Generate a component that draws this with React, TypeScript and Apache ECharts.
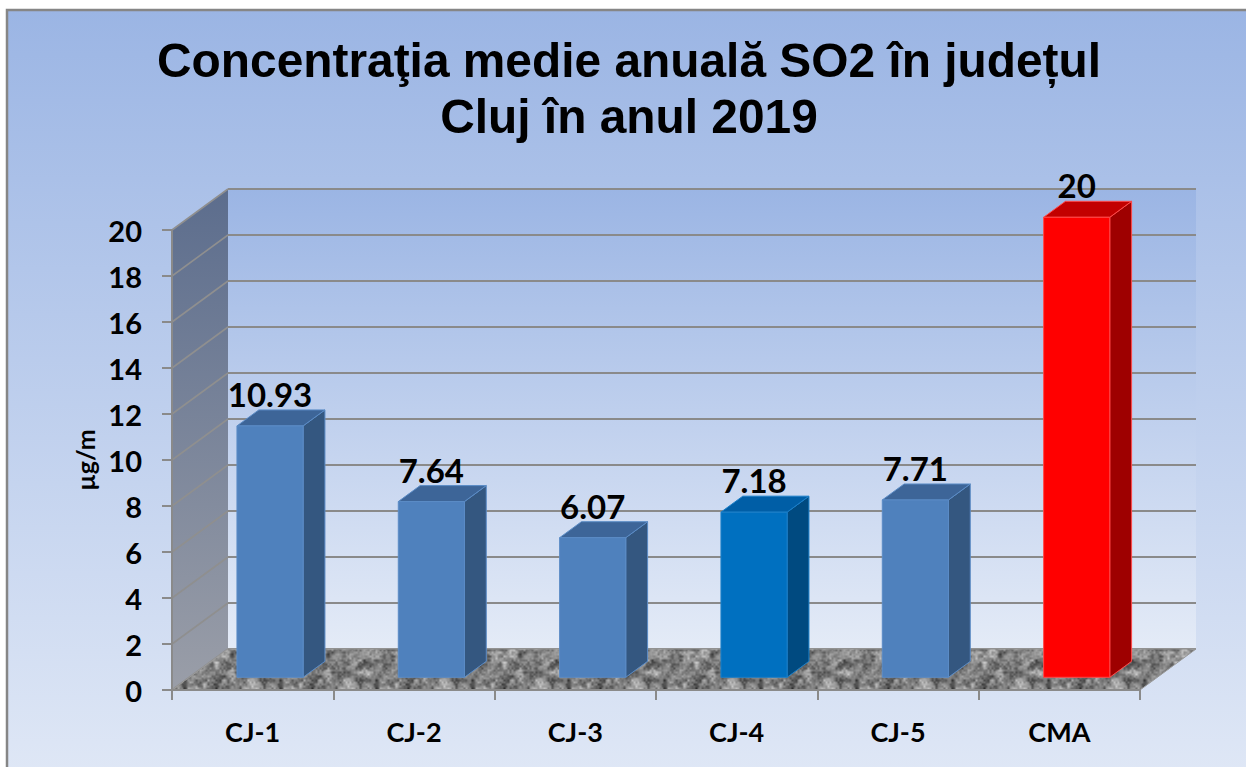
import React, { useEffect, useRef } from "react";
import * as echarts from "echarts";

// ---- data ----
const categories = ["CJ-1", "CJ-2", "CJ-3", "CJ-4", "CJ-5", "CMA"];
const values = [10.93, 7.64, 6.07, 7.18, 7.71, 20];
const yTicks = [0, 2, 4, 6, 8, 10, 12, 14, 16, 18, 20];
const titleLines = ["Concentraţia medie anuală SO2 în județul", "Cluj în anul 2019"];
const yAxisName = "µg/m";

// ---- styles / geometry ----
const W = 1246;
const H = 767;
const DX = 56; // depth offset of back wall
const DY = -41;
const D0 = 0.31; // bar front depth fraction
const D1 = 0.7; // bar back depth fraction
const BAR_FRAC = 0.41;
const LABEL_FONT = "Lato, 'Noto Sans', sans-serif";

const blue = { front: "#4f81bd", side: "#345780", top: "#3d6598", edge: "#5b8cc6" };
const strong = { front: "#0070c0", side: "#004a80", top: "#005ea6", edge: "#1b7fc8" };
const red = { front: "#ff0000", side: "#9e0000", top: "#c20000", edge: "#ff4a4a" };
const barPalette = [blue, blue, blue, strong, blue, red];

function makeGranite(): HTMLCanvasElement {
  const s = 96;
  const c = document.createElement("canvas");
  c.width = s;
  c.height = s;
  const g = c.getContext("2d")!;
  const img = g.createImageData(s, s);
  const hash = (x: number, y: number, seed: number) => {
    let h = Math.imul(x, 374761393) ^ Math.imul(y, 668265263) ^ Math.imul(seed, 2246822519);
    h = Math.imul(h ^ (h >>> 13), 1274126177);
    h = h ^ (h >>> 16);
    return ((h >>> 0) % 10000) / 10000;
  };
  const noise = (x: number, y: number, cell: number, seed: number) => {
    const n = s / cell;
    const gx = x / cell;
    const gy = y / cell;
    const ix = Math.floor(gx);
    const iy = Math.floor(gy);
    const fx = gx - ix;
    const fy = gy - iy;
    const sx = fx * fx * (3 - 2 * fx);
    const sy = fy * fy * (3 - 2 * fy);
    const a = hash(ix % n, iy % n, seed);
    const b = hash((ix + 1) % n, iy % n, seed);
    const cc = hash(ix % n, (iy + 1) % n, seed);
    const d = hash((ix + 1) % n, (iy + 1) % n, seed);
    return (a * (1 - sx) + b * sx) * (1 - sy) + (cc * (1 - sx) + d * sx) * sy;
  };
  for (let y = 0; y < s; y++) {
    for (let x = 0; x < s; x++) {
      const v =
        noise(x, y, 8, 1) * 0.4 + noise(x, y, 4, 2) * 0.35 + noise(x, y, 2, 3) * 0.25;
      let gray = 126 + (v - 0.5) * 190;
      gray = Math.max(45, Math.min(205, gray));
      const k = (y * s + x) * 4;
      img.data[k] = gray;
      img.data[k + 1] = gray;
      img.data[k + 2] = gray;
      img.data[k + 3] = 255;
    }
  }
  g.putImageData(img, 0, 0);
  return c;
}

function measure(text: string, font: string): number {
  const ctx = document.createElement("canvas").getContext("2d")!;
  ctx.font = font;
  return ctx.measureText(text).width;
}

export default function App() {
  const ref = useRef<HTMLDivElement>(null);

  useEffect(() => {
    if (!ref.current) return;
    const chart = echarts.init(ref.current, undefined, { renderer: "svg" });
    const granite = makeGranite();
    const titleFont = "bold 49px 'Liberation Sans', Arial, sans-serif";
    const tw = measure(titleLines[0], titleFont);
    const titleScale = tw > 0 ? 944 / tw : 0.84;

    const renderWalls = (params: any, api: any) => {
      const cs = params.coordSys;
      const L = cs.x;
      const R = cs.x + cs.width;
      const yOf = (v: number) => api.coord([0, v])[1];
      const yTop = yOf(yTicks[yTicks.length - 1]);
      const yBot = yOf(yTicks[0]);
      const children: any[] = [];
      children.push({
        type: "rect",
        shape: { x: L + DX, y: yTop + DY, width: R - L, height: yBot - yTop },
        style: {
          fill: new echarts.graphic.LinearGradient(0, 0, 0, 1, [
            { offset: 0, color: "#9bb5e4" },
            { offset: 1, color: "#e4ebf7" },
          ]),
        },
      });
      children.push({
        type: "polygon",
        shape: {
          points: [
            [L, yTop],
            [L + DX, yTop + DY],
            [L + DX, yBot + DY],
            [L, yBot],
          ],
        },
        style: {
          fill: new echarts.graphic.LinearGradient(0, 0, 0, 1, [
            { offset: 0, color: "#5c6d8d" },
            { offset: 1, color: "#9a9ea8" },
          ]),
        },
      });
      yTicks.forEach((t) => {
        const y = yOf(t);
        children.push({
          type: "line",
          shape: { x1: L + DX, y1: y + DY, x2: R + DX, y2: y + DY },
          style: { stroke: "#8a8a8a", lineWidth: 2.2 },
        });
        children.push({
          type: "line",
          shape: { x1: L, y1: y, x2: L + DX, y2: y + DY },
          style: { stroke: "#8f8f8f", lineWidth: 1.6 },
        });
      });
      children.push({
        type: "polygon",
        shape: {
          points: [
            [L, yBot],
            [L + DX, yBot + DY],
            [R + DX, yBot + DY],
            [R, yBot],
          ],
        },
        style: {
          fill: { image: granite, repeat: "repeat", imageWidth: 96, imageHeight: 96 },
          stroke: "#9a9a9a",
          lineWidth: 1,
        },
      });
      return { type: "group", children };
    };

    const renderBar = (params: any, api: any) => {
      const i = api.value(0);
      const v = api.value(1);
      const p0 = api.coord([i, 0]);
      const p1 = api.coord([i, v]);
      const bw = api.size([1, 0])[0] * BAR_FRAC;
      const cx = p0[0] + D0 * DX;
      const x0 = cx - bw / 2;
      const x1 = cx + bw / 2;
      const yb = p0[1] + D0 * DY;
      const yt = p1[1] + D0 * DY;
      const ex = (D1 - D0) * DX;
      const ey = (D1 - D0) * DY;
      const pal = barPalette[params.dataIndex % barPalette.length];
      return {
        type: "group",
        children: [
          {
            type: "polygon",
            shape: {
              points: [
                [x1, yt],
                [x1 + ex, yt + ey],
                [x1 + ex, yb + ey],
                [x1, yb],
              ],
            },
            style: { fill: pal.side, stroke: pal.edge, lineWidth: 1 },
          },
          {
            type: "polygon",
            shape: {
              points: [
                [x0, yt],
                [x0 + ex, yt + ey],
                [x1 + ex, yt + ey],
                [x1, yt],
              ],
            },
            style: { fill: pal.top, stroke: pal.edge, lineWidth: 1 },
          },
          {
            type: "rect",
            shape: { x: x0, y: yt, width: bw, height: yb - yt },
            style: { fill: pal.front, stroke: pal.edge, lineWidth: 1 },
          },
          {
            type: "text",
            x: cx,
            y: yt + ey - 16,
            style: {
              text: String(values[params.dataIndex]),
              fill: "#000",
              fontSize: 33,
              fontWeight: "bold",
              fontFamily: LABEL_FONT,
              align: "center",
              verticalAlign: "middle",
              textAlign: "center",
              textVerticalAlign: "middle",
            },
          },
        ],
      };
    };

    const axisColor = "#8a8a8a";
    chart.setOption({
      animation: false,
      backgroundColor: "#ffffff",
      grid: { left: 172, right: W - 1140, top: 230, bottom: H - 690 },
      graphic: [
        {
          type: "rect",
          z: -10,
          shape: { x: 7, y: 10, width: W + 10, height: H + 10 },
          style: {
            fill: new echarts.graphic.LinearGradient(0, 0, 0, 1, [
              { offset: 0, color: "#9bb5e4" },
              { offset: 1, color: "#e0e8f6" },
            ]),
            stroke: "#868686",
            lineWidth: 2.5,
          },
        },
        {
          type: "text",
          z: 100,
          x: 629,
          y: 60,
          scaleX: titleScale,
          style: {
            text: titleLines[0],
            font: titleFont,
            fill: "#000",
            align: "center",
            verticalAlign: "middle",
            textAlign: "center",
            textVerticalAlign: "middle",
          },
        },
        {
          type: "text",
          z: 100,
          x: 629,
          y: 116,
          scaleX: titleScale,
          style: {
            text: titleLines[1],
            font: titleFont,
            fill: "#000",
            align: "center",
            verticalAlign: "middle",
            textAlign: "center",
            textVerticalAlign: "middle",
          },
        },
      ],
      xAxis: {
        type: "category",
        data: categories,
        z: 5,
        axisLine: { show: true, lineStyle: { color: axisColor, width: 2 } },
        axisTick: { show: true, length: 10, lineStyle: { color: axisColor, width: 2 } },
        axisLabel: {
          margin: 28,
          color: "#000",
          fontSize: 27,
          fontWeight: "bold",
          fontFamily: LABEL_FONT,
        },
        splitLine: { show: false },
      },
      yAxis: {
        type: "value",
        min: yTicks[0],
        max: yTicks[yTicks.length - 1],
        interval: yTicks[1] - yTicks[0],
        z: 5,
        name: yAxisName,
        nameLocation: "middle",
        nameRotate: 90,
        nameGap: 72,
        nameTextStyle: {
          color: "#000",
          fontSize: 25,
          fontWeight: "bold",
          fontFamily: LABEL_FONT,
        },
        axisLine: { show: true, lineStyle: { color: axisColor, width: 2 } },
        axisTick: { show: true, length: 10, lineStyle: { color: axisColor, width: 2 } },
        axisLabel: {
          margin: 30,
          color: "#000",
          fontSize: 29,
          fontWeight: "bold",
          fontFamily: LABEL_FONT,
        },
        splitLine: { show: false },
      },
      series: [
        {
          type: "custom",
          z: 1,
          clip: false,
          silent: true,
          renderItem: renderWalls,
          data: [[0, 0]],
        },
        {
          type: "custom",
          z: 3,
          clip: false,
          renderItem: renderBar,
          data: values.map((v, i) => [i, v]),
        },
      ],
    });
    return () => chart.dispose();
  }, []);

  return (
    <div
      ref={ref}
      style={{ position: "fixed", left: 0, top: 0, width: W, height: H }}
    />
  );
}
